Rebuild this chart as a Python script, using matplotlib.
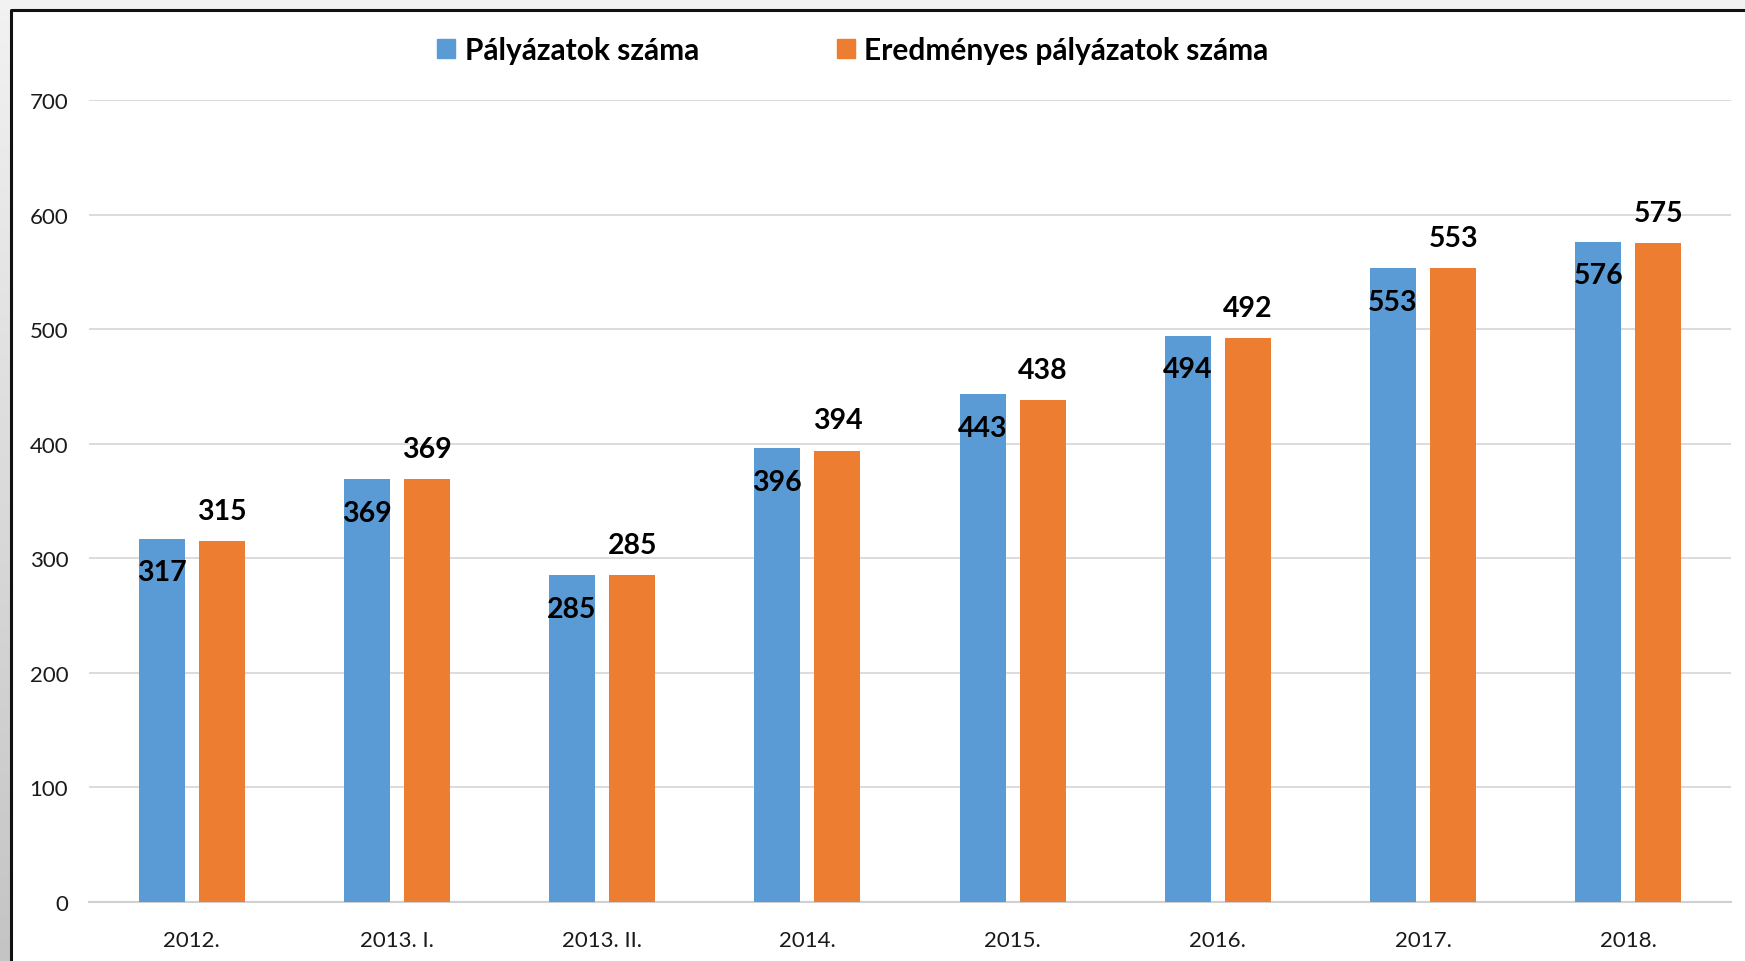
import matplotlib
matplotlib.use("Agg")
import matplotlib.pyplot as plt
from matplotlib.patches import Patch
from matplotlib.lines import Line2D
import numpy as np

plt.rcParams['font.family'] = ['Lato', 'DejaVu Sans']

# data
categories = ["2012.", "2013. I.", "2013. II.", "2014.", "2015.", "2016.", "2017.", "2018."]
palyazatok = [317, 369, 285, 396, 443, 494, 553, 576]
eredmenyes = [315, 369, 285, 394, 438, 492, 553, 575]
series_names = ["Pályázatok száma", "Eredményes pályázatok száma"]

blue = "#5B9BD5"
orange = "#ED7D31"

W, H = 1745, 962
fig = plt.figure(figsize=(W / 100, H / 100), dpi=100)
fig.patch.set_facecolor("white")

# grey frame around the chart (screenshot edge)
bg = fig.add_axes([0, 0, 1, 1], zorder=-10)
bg.axis("off")
bg.add_patch(plt.Rectangle((0, 0), W, 11, color="#f2f2f2", lw=0))
grad = np.linspace(0, 1, 256).reshape(-1, 1)
bg.imshow(grad, extent=(0, 10, H, 0), cmap=matplotlib.colors.LinearSegmentedColormap.from_list(
    "g", ["#f2f2f2", "#c4c4c4"]), aspect="auto")
bg.set_xlim(0, W)
bg.set_ylim(H, 0)
bg.add_line(Line2D([11, 11, W], [H, 11, 11], color="#111111", lw=2.2))

ax = fig.add_axes([89 / W, 1 - 903 / H, (1731 - 89) / W, (903 - 101) / H])
x = np.arange(len(categories))
off = 0.1465
bw = 0.2245
ax.bar(x - off, palyazatok, bw, color=blue, zorder=3)
ax.bar(x + off, eredmenyes, bw, color=orange, zorder=3)

for xi, v in zip(x - off, palyazatok):
    ax.annotate(str(v), (xi, v), xytext=(0, -24), textcoords="offset points",
                ha="center", va="center", fontsize=20.5, fontweight="bold", zorder=5)
for xi, v in zip(x + off, eredmenyes):
    ax.annotate(str(v), (xi, v), xytext=(0, 22), textcoords="offset points",
                ha="center", va="center", fontsize=20.5, fontweight="bold", zorder=5)

ax.set_xlim(-0.5, len(categories) - 0.5)
ax.set_ylim(0, 700)
ax.set_yticks(range(0, 701, 100))
ax.set_xticks(x)
ax.set_xticklabels(categories)
ax.tick_params(axis="y", length=0, pad=15, labelsize=16, labelcolor="#1a1a1a")
ax.tick_params(axis="x", length=0, pad=20, labelsize=16, labelcolor="#1a1a1a")
ax.yaxis.grid(True, color="#d9d9d9", lw=1.3, zorder=0)
for s in ["top", "right", "left"]:
    ax.spines[s].set_visible(False)
ax.spines["bottom"].set_color("#d0d0d0")
ax.spines["bottom"].set_linewidth(1.5)

handles = [Patch(color=blue), Patch(color=orange)]
fig.legend(handles, series_names, ncol=2, loc="center", bbox_to_anchor=(853 / W, 1 - 51 / H),
           frameon=False, prop={"size": 21.5, "weight": "bold"},
           handlelength=0.6, handleheight=0.6, handletextpad=0.33, columnspacing=4.6)

fig.savefig("out.png", dpi=100)
